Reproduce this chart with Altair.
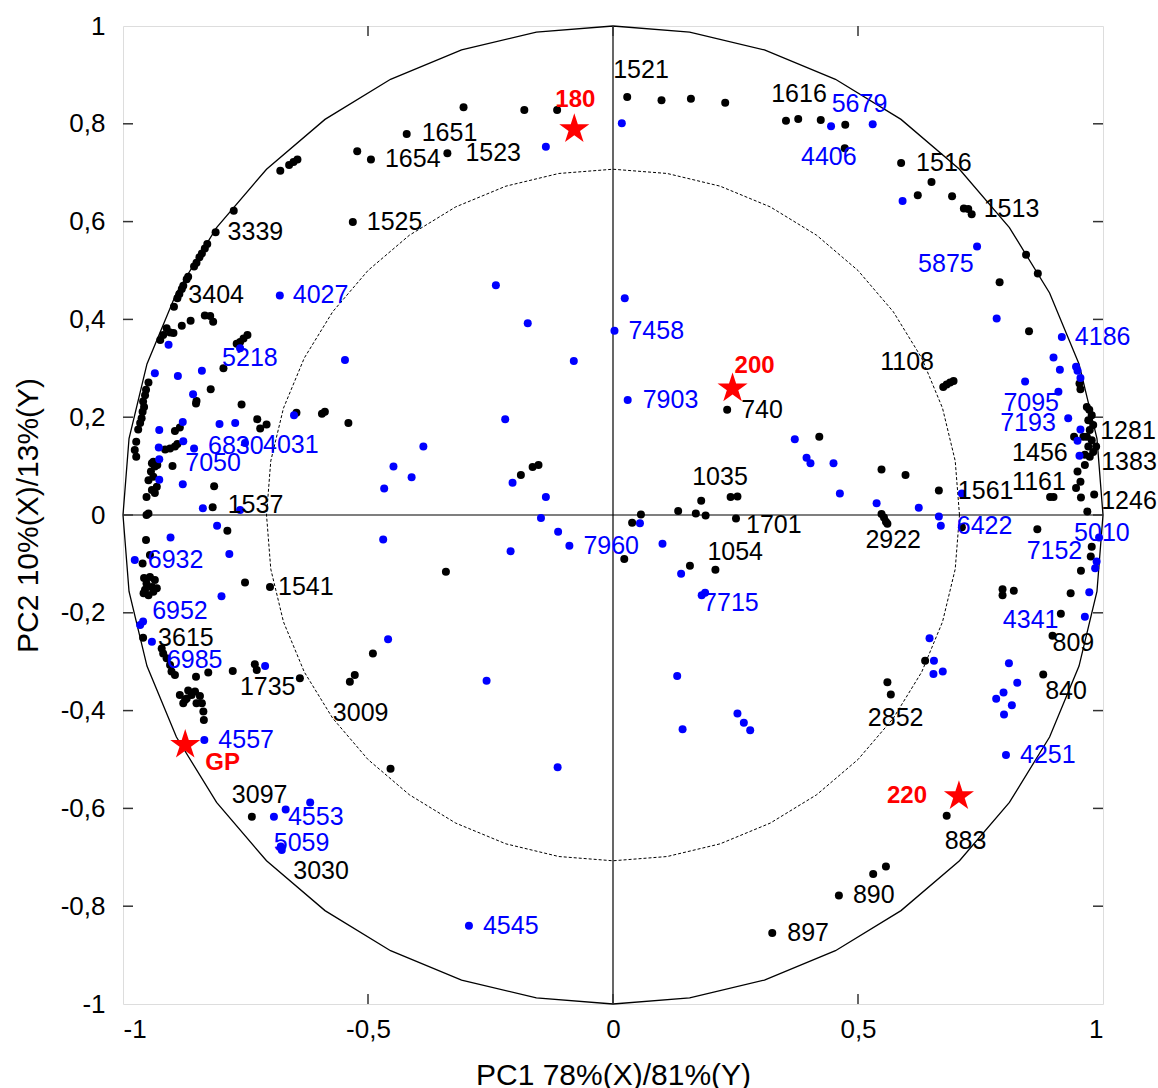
import numpy as np
import pandas as pd
import altair as alt

# Plot area size in pixels
W, H = 980, 978

# ---- scores on PC1 / PC2 -------------------------------------------------
# Unlabelled black variables
black_pc1 = [
    -0.522, -0.679, -0.661, -0.652, -0.644, -0.774,
    -0.828, -0.833, -0.839, -0.844, -0.850, -0.855, -0.867, -0.870, -0.877, -0.880, -0.889, -0.896,
    -0.862, -0.880, -0.833, -0.822, -0.816, -0.911, -0.918, -0.924, -0.897, -0.904,
    -0.746, -0.754, -0.761, -0.768, -0.305, -0.181, -0.114,
    0.099, 0.159, 0.229, 0.353, 0.424, 0.474, 0.473, 0.650, 0.622, 0.692, 0.716, 0.725,
    0.843, 0.867, 0.789, 0.849, 0.952, 0.954,
    0.967, 0.972, 0.977, 0.970, 0.973, 0.967, 0.977, 0.970, 0.986, 0.960, 0.963, 0.973,
    0.963, 0.948, 0.954, 0.945, 0.899, 0.955, 0.968, 0.866,
    0.977, 0.975, 0.955, 0.795, 0.795, 0.818, 0.934, 0.914, 0.637, 0.560,
    0.557, 0.531, 0.681, 0.688, 0.695, 0.421, 0.548, 0.597,
    0.548, 0.553, 0.557, 0.712,
    -0.188, -0.164, -0.152, -0.341, 0.023, 0.039, 0.057, 0.133, 0.169, 0.189, 0.240, 0.254, 0.157,
    -0.795, -0.821, -0.850, -0.851, -0.758,
    -0.948, -0.953, -0.955, -0.959, -0.957, -0.960, -0.962, -0.965, -0.969, -0.973, -0.976, -0.973,
    -0.894, -0.884, -0.726, -0.720, -0.707, -0.914, -0.904, -0.894, -0.889,
    -0.941, -0.935, -0.943, -0.938, -0.948, -0.931, -0.941, -0.952, -0.935, -0.930, -0.938,
    -0.899, -0.814, -0.952, -0.948, -0.787, -0.953, -0.960, -0.945,
    -0.957, -0.945, -0.935, -0.952, -0.941, -0.955, -0.938, -0.948, -0.958, -0.931,
    -0.751, -0.646, -0.594, -0.588, -0.540,
    -0.921, -0.918, -0.911, -0.904, -0.901, -0.894,
    -0.731, -0.727, -0.776, -0.826, -0.851, -0.490, -0.527,
    -0.884, -0.873, -0.867, -0.860, -0.853, -0.843, -0.839, -0.850, -0.836, -0.835, -0.877, -0.870,
    -0.454,
]
black_pc2 = [
    0.744, 0.704, 0.716, 0.722, 0.727, 0.622,
    0.554, 0.545, 0.535, 0.527, 0.516, 0.508, 0.487, 0.482, 0.469, 0.462, 0.443, 0.426,
    0.397, 0.387, 0.408, 0.407, 0.395, 0.382, 0.368, 0.358, 0.372, 0.373,
    0.368, 0.361, 0.354, 0.350, 0.834, 0.828, 0.828,
    0.848, 0.851, 0.843, 0.806, 0.808, 0.798, 0.750, 0.681, 0.654, 0.652, 0.627, 0.626,
    0.532, 0.494, 0.476, 0.376, 0.269, 0.257,
    0.221, 0.215, 0.204, 0.194, 0.174, 0.160, 0.153, 0.140, 0.140, 0.160, 0.123, 0.119,
    0.102, 0.089, 0.068, 0.055, 0.037, 0.036, 0.007, -0.029,
    -0.065, -0.085, -0.114, -0.152, -0.164, -0.155, -0.160, -0.202, -0.298, -0.342,
    -0.719, -0.734, 0.267, 0.271, 0.274, 0.160, 0.093, 0.082,
    0.002, -0.005, -0.014, -0.025,
    0.082, 0.098, 0.102, -0.116, -0.090, -0.016, 0.001, 0.008, 0.003, -0.001, 0.037, 0.038, -0.104,
    0.300, 0.257, 0.233, 0.228, 0.226,
    0.271, 0.256, 0.245, 0.232, 0.221, 0.211, 0.198, 0.188, 0.175, 0.150, 0.133, 0.119,
    0.172, 0.179, 0.196, 0.177, 0.185, 0.134, 0.136, 0.140, 0.145,
    0.106, 0.099, 0.089, 0.078, 0.071, 0.058, 0.051, 0.037, 0.045, 0.102, 0.109,
    0.100, 0.059, 0.000, 0.003, -0.032, -0.051, -0.099, -0.082,
    -0.129, -0.127, -0.133, -0.140, -0.147, -0.153, -0.157, -0.164, -0.160, -0.150,
    -0.138, 0.209, 0.207, 0.211, 0.188,
    -0.273, -0.283, -0.293, -0.307, -0.320, -0.327,
    -0.305, -0.317, -0.319, -0.322, -0.331, -0.283, -0.327,
    -0.368, -0.378, -0.359, -0.368, -0.361, -0.370, -0.385, -0.385, -0.402, -0.419, -0.385, -0.375,
    -0.519,
]

# Labelled black variables
black_tag = ["1651", "1654", "1523", "3339", "1525", "3404", "1521", "1616", "1516", "1513",
             "1108", "1281", "1383", "1456", "1161", "1246", "809", "840", "2852", "883",
             "890", "897", "1561", "2922", "740", "1035", "1701", "1054", "1537", "1541",
             "3615", "1735", "3009", "3097", "3030"]
black_tag_pc1 = [-0.421, -0.494, -0.338, -0.811, -0.531, -0.885, 0.029, 0.378, 0.588, 0.732,
                 0.674, 0.980, 0.980, 0.941, 0.892, 0.982, 0.897, 0.878, 0.567, 0.681,
                 0.461, 0.325, 0.665, 0.560, 0.233, 0.180, 0.251, 0.209, -0.817, -0.700,
                 -0.959, -0.639, -0.537, -0.737, -0.677]
black_tag_pc2 = [0.779, 0.727, 0.740, 0.578, 0.599, 0.452, 0.855, 0.810, 0.720, 0.615,
                 0.262, 0.184, 0.129, 0.160, 0.037, 0.042, -0.247, -0.326, -0.367, -0.615,
                 -0.778, -0.855, 0.050, -0.018, 0.215, 0.029, -0.007, -0.112, 0.016, -0.147,
                 -0.251, -0.334, -0.341, -0.617, -0.680]

# Unlabelled blue variables
blue_pc1 = [
    -0.907, -0.547, -0.137, 0.018, -0.239, -0.174, 0.024, -0.080, 0.591,
    0.783, 0.899, 0.912, 0.945, 0.948, 0.954, 0.841, 0.954, 0.948, 0.952,
    0.984, 0.972, 0.808, 0.646, 0.655, 0.654, 0.673,
    0.825, 0.782, 0.797, 0.814, 0.798,
    0.371, 0.395, 0.403, 0.450, 0.463, 0.538, 0.624, 0.712, 0.665,
    -0.220, -0.205, -0.137, -0.147, -0.112, -0.209, 0.055, 0.101, 0.139, 0.181,
    -0.258, 0.131, 0.142, 0.254, 0.267, 0.280, -0.113,
    -0.935, -0.888, -0.839, -0.857, -0.926, -0.878, -0.803, -0.771, -0.927, -0.877, -0.926, -0.878,
    -0.651, -0.387, -0.448, -0.411, -0.467,
    -0.837, -0.761, -0.808, -0.903, -0.783, -0.469, -0.799, -0.959,
    -0.710, -0.459, -0.668, -0.618, -0.678,
]
blue_pc2 = [
    0.348, 0.317, 0.753, 0.801, 0.470, 0.392, 0.443, 0.315, 0.642,
    0.402, 0.322, 0.297, 0.303, 0.295, 0.280, 0.273, 0.175, 0.152, 0.121,
    -0.109, -0.158, -0.303, -0.252, -0.298, -0.325, -0.320,
    -0.343, -0.376, -0.363, -0.389, -0.408,
    0.155, 0.117, 0.106, 0.106, 0.044, 0.024, 0.015, 0.044, -0.003,
    0.196, 0.066, 0.037, -0.006, -0.034, -0.074, -0.017, -0.059, -0.120, -0.164,
    -0.339, -0.329, -0.438, -0.406, -0.425, -0.440, -0.516,
    0.290, 0.284, 0.295, 0.247, 0.174, 0.190, 0.186, 0.188, 0.138, 0.151, 0.072, 0.063,
    0.204, 0.140, 0.099, 0.077, 0.054,
    0.014, 0.010, -0.022, -0.046, -0.080, -0.050, -0.166, -0.218,
    -0.309, -0.254, -0.602, -0.588, -0.678,
]

# Labelled blue variables
blue_tag = ["4027", "5218", "7458", "4406", "5679", "5875", "4186", "7095", "7193", "5010",
            "7152", "4341", "4251", "6422", "7903", "7960", "7715", "4545", "6830", "4031",
            "7050", "6932", "6952", "6985", "4557", "4553", "5059"]
blue_tag_pc1 = [-0.680, -0.761, 0.003, 0.445, 0.530, 0.743, 0.916, 0.909, 0.929, 0.992,
                0.987, 0.963, 0.802, 0.669, 0.030, -0.089, 0.188, -0.294, -0.855, -0.751,
                -0.926, -0.976, -0.965, -0.941, -0.834, -0.692, -0.676]
blue_tag_pc2 = [0.449, 0.341, 0.377, 0.795, 0.799, 0.549, 0.364, 0.252, 0.198, -0.046,
                -0.095, -0.208, -0.491, -0.022, 0.235, -0.063, -0.159, -0.840, 0.136, 0.147,
                0.114, -0.092, -0.225, -0.259, -0.460, -0.617, -0.685]

# Samples (red stars)
star_tag = ["180", "200", "220", "GP"]
star_pc1 = [-0.079, 0.244, 0.706, -0.873]
star_pc2 = [0.789, 0.259, -0.575, -0.470]

# Tick positions
x_ticks = [-1, -0.5, 0, 0.5, 1]
y_ticks = [-1, -0.8, -0.6, -0.4, -0.2, 0, 0.2, 0.4, 0.6, 0.8, 1]

# Label placement relative to each point (pixels: right, down)
label_nudge = {
    "1651": (15, -1), "1654": (14, 0), "1523": (18, 0), "3339": (12, 0), "1525": (14, 0),
    "3404": (9, 1), "1521": (-14, -27), "1616": (-27, -25), "1516": (15, 0), "1513": (12, -5),
    "1108": (-63, -25), "1281": (7, 6), "1383": (8, 10), "1456": (-62, 16), "1161": (-38, -15),
    "1246": (7, 7), "809": (0, 7), "840": (2, 17), "2852": (-23, 24), "883": (-2, 25),
    "890": (14, 0), "897": (15, 0), "1561": (19, 0), "2922": (-22, 16), "740": (14, 0),
    "1035": (-9, -24), "1701": (10, 7), "1054": (-8, -18), "1537": (15, -2), "1541": (8, 0),
    "3615": (15, 0), "1735": (-60, 9), "3009": (-17, 31), "3097": (-20, -22), "3030": (12, 23),
    "4027": (13, 0), "5218": (-18, 10), "7458": (14, 0), "4406": (-30, 31), "5679": (-41, -20),
    "5875": (-59, 17), "4186": (13, 0), "7095": (-55, 11), "7193": (-68, 5), "5010": (-25, -4),
    "7152": (-70, -10), "4341": (-82, 3), "4251": (14, 0), "6422": (16, 0), "7903": (15, 0),
    "7960": (14, 0), "7715": (-2, 10), "4545": (14, 0), "6830": (14, -2), "4031": (18, 2),
    "7050": (26, 4), "6932": (13, 0), "6952": (12, -14), "6985": (15, 18), "4557": (14, 0),
    "4553": (14, 0), "5059": (-8, -7),
    "180": (-19, -29), "200": (2, -22), "220": (-72, 0), "GP": (20, 18),
}

BLACK, BLUE, RED = "#000000", "#0000ff", "#ff0000"

# Five-pointed star outline in the unit square
STAR = ("M0,-1L0.2245,-0.309L0.951,-0.309L0.363,0.118L0.588,0.809L0,0.382"
        "L-0.588,0.809L-0.363,0.118L-0.951,-0.309L-0.2245,-0.309Z")


def points(xs, ys):
    return pd.DataFrame({"pc1": xs, "pc2": ys})


def labels(names, xs, ys):
    dx = np.array([label_nudge[n][0] for n in names], dtype=float)
    dy = np.array([label_nudge[n][1] for n in names], dtype=float)
    return pd.DataFrame({
        "name": names,
        "pc1": np.array(xs) + dx * 2.0 / W,
        "pc2": np.array(ys) - dy * 2.0 / H,
    })


tick_fmt = ("(datum.value < 0 ? '-' : '') + "
            "replace(format(abs(datum.value), '.1~f'), '.', ',')")

x_enc = alt.X(
    "pc1:Q",
    scale=alt.Scale(domain=[-1, 1], nice=False, zero=False),
    axis=alt.Axis(orient="bottom", values=x_ticks, labelExpr=tick_fmt, title="PC1 78%(X)/81%(Y)",
                  ticks=False, domain=False, grid=False, labelPadding=12,
                  labelFontSize=26, labelColor=BLACK, labelFont="Liberation Sans",
                  titleFontSize=30, titleFontWeight="normal", titleColor=BLACK,
                  titleFont="Liberation Sans", titleX=W / 2, titleY=80,
                  titleBaseline="alphabetic", titleAnchor="middle"),
)
y_enc = alt.Y(
    "pc2:Q",
    scale=alt.Scale(domain=[-1, 1], nice=False, zero=False),
    axis=alt.Axis(orient="left", values=y_ticks, labelExpr=tick_fmt, title="PC2 10%(X)/13%(Y)",
                  ticks=False, domain=False, grid=False, labelPadding=18,
                  labelFontSize=26, labelColor=BLACK, labelFont="Liberation Sans",
                  titleFontSize=30, titleFontWeight="normal", titleColor=BLACK,
                  titleFont="Liberation Sans", titleX=-80, titleY=H / 2, titleAngle=270,
                  titleBaseline="bottom", titleAnchor="middle"),
)

# Correlation circles (r = 1 and r = sqrt(0.5)) drawn as 40-sided polygons
ang = np.deg2rad(np.arange(0, 361, 9))
outer = pd.DataFrame({"pc1": np.cos(ang), "pc2": np.sin(ang), "k": np.arange(len(ang))})
r_in = np.sqrt(0.5)
inner = pd.DataFrame({"pc1": r_in * np.cos(ang), "pc2": r_in * np.sin(ang), "k": np.arange(len(ang))})

outer_line = alt.Chart(outer).mark_line(color=BLACK, strokeWidth=1.3).encode(
    x=x_enc, y=y_enc, order="k:Q")
inner_line = alt.Chart(inner).mark_line(color=BLACK, strokeWidth=1, strokeDash=[3, 2]).encode(
    x=x_enc, y=y_enc, order="k:Q")

# Centre cross
v_axis = alt.Chart(pd.DataFrame({"pc1": [0.0]})).mark_rule(color=BLACK, strokeWidth=1.2).encode(x=x_enc)
h_axis = alt.Chart(pd.DataFrame({"pc2": [0.0]})).mark_rule(color=BLACK, strokeWidth=1.2).encode(y=y_enc)

# Inward ticks on all four sides of the frame
tick_len = 10
ty = pd.DataFrame({"pc2": y_ticks[1:-1]})
tx = pd.DataFrame({"pc1": x_ticks[1:-1]})
tick_style = dict(color="#333333", strokeWidth=1.5)
ticks_left = alt.Chart(ty).mark_rule(**tick_style).encode(
    y=y_enc, x=alt.value(0), x2=alt.value(tick_len))
ticks_right = alt.Chart(ty).mark_rule(**tick_style).encode(
    y=y_enc, x=alt.value(W - tick_len), x2=alt.value(W))
ticks_bottom = alt.Chart(tx).mark_rule(**tick_style).encode(
    x=x_enc, y=alt.value(H - tick_len), y2=alt.value(H))
ticks_top = alt.Chart(tx).mark_rule(**tick_style).encode(
    x=x_enc, y=alt.value(0), y2=alt.value(tick_len))

dot = dict(size=64, opacity=1, filled=True)
black_pts = alt.Chart(points(black_pc1 + black_tag_pc1, black_pc2 + black_tag_pc2)).mark_circle(
    color=BLACK, **dot).encode(x=x_enc, y=y_enc)
blue_pts = alt.Chart(points(blue_pc1 + blue_tag_pc1, blue_pc2 + blue_tag_pc2)).mark_circle(
    color=BLUE, **dot).encode(x=x_enc, y=y_enc)
stars = alt.Chart(points(star_pc1, star_pc2)).mark_point(
    shape=STAR, size=1000, filled=True, fill=RED, color=RED, opacity=1).encode(x=x_enc, y=y_enc)

txt = dict(align="left", baseline="middle", fontSize=25, font="Liberation Sans")
black_txt = alt.Chart(labels(black_tag, black_tag_pc1, black_tag_pc2)).mark_text(
    color=BLACK, **txt).encode(x=x_enc, y=y_enc, text="name:N")
blue_txt = alt.Chart(labels(blue_tag, blue_tag_pc1, blue_tag_pc2)).mark_text(
    color=BLUE, **txt).encode(x=x_enc, y=y_enc, text="name:N")
star_txt = alt.Chart(labels(star_tag, star_pc1, star_pc2)).mark_text(
    color=RED, fontWeight="bold", align="left", baseline="middle", fontSize=24,
    font="Liberation Sans").encode(x=x_enc, y=y_enc, text="name:N")

chart = alt.layer(
    outer_line, inner_line, v_axis, h_axis,
    ticks_left, ticks_right, ticks_bottom, ticks_top,
    black_pts, blue_pts, stars, black_txt, blue_txt, star_txt,
).properties(
    width=W, height=H,
    padding={"left": 123, "top": 26, "right": 55, "bottom": 84},
    autosize=alt.AutoSizeParams(type="none"),
    background="white",
).configure_view(
    stroke="#333333", strokeWidth=1.5
).configure(font="Liberation Sans")

chart.save("out.html", embed_options={"renderer": "svg", "actions": False})
